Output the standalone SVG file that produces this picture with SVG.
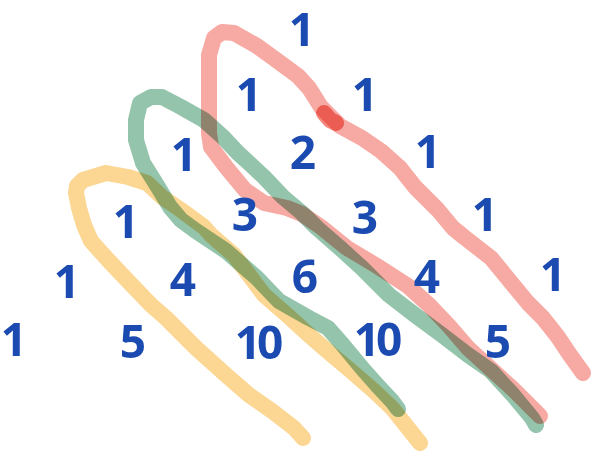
<svg xmlns="http://www.w3.org/2000/svg" width="592" height="456" viewBox="0 0 592 456">
<style>
.loop{fill:none;stroke-width:16;stroke-linecap:round;stroke-linejoin:round;mix-blend-mode:multiply}
.red{stroke:#f7aaa3}.green{stroke:#94c4ab}.yellow{stroke:#fcd693}
.n{font-family:"Noto Sans",sans-serif;font-weight:700;font-size:46px;fill:#1b4bb1;text-anchor:middle}
.t{letter-spacing:-4px}
</style>
<rect width="592" height="456" fill="#ffffff"/>
<g id="loops">
<path id="loop-yellow" class="loop yellow" d="M303,438 L294,428 L272,411 L249,395 L226,375 L196,348 L166,318 L151,305 L128,281 L109,261 L91,241 L84,225 L79,208 L76,193 L77,186 L83,180 L106,173 L128,177 L147,183 L162,197 L181,210 L204,227 L211,235 L234,255 L249,275 L264,295 L287,315 L309,335 L332,355 L351,371 L374,391 L392,408 L408,428 L420,443"/>
<path id="loop-green" class="loop green" d="M536,425 L532,418 L513,395 L491,371 L468,355 L442,335 L415,315 L389,295 L362,268 L340,248 L317,228 L302,213 L283,197 L264,177 L249,163 L238,153 L223,137 L204,120 L181,107 L162,97 L151,97 L140,103 L136,120 L136,140 L143,163 L158,187 L170,207 L181,220 L196,231 L226,251 L257,278 L279,301 L309,318 L328,328 L343,345 L362,368 L377,385 L392,401 L398,409"/>
<path id="loop-red" class="loop red" d="M583,373 L570,355 L558,337 L543,318 L528,303 L509,280 L491,258 L464,237 L453,228 L438,210 L415,187 L400,168 L381,151 L362,138 L340,126 L330,116 L321,107 L309,88 L298,76 L279,62 L257,46 L234,33 L222,32 L214,38 L209,55 L209,70 L209,133 L211,147 L226,167 L245,190 L264,203 L287,208 L302,214 L321,227 L347,248 L377,266 L408,286 L430,306 L449,326 L468,348 L491,369 L513,389 L532,408 L540,416"/>
<path class="loop" stroke="#f38a81" stroke-width="11" d="M324,113 L330,120 L336,123"/>
</g>
<g id="row0"><text id="n0-0" class="n" x="302" y="46">1</text></g>
<g id="row1"><text id="n1-0" class="n" x="249" y="111">1</text><text id="n1-1" class="n" x="365" y="111">1</text></g>
<g id="row2"><text id="n2-0" class="n" x="184" y="171">1</text><text id="n2-1" class="n" x="303" y="169">2</text><text id="n2-2" class="n" x="428" y="168">1</text></g>
<g id="row3"><text id="n3-0" class="n" x="126" y="238">1</text><text id="n3-1" class="n" x="245" y="231">3</text><text id="n3-2" class="n" x="365" y="234">3</text><text id="n3-3" class="n" x="485" y="231">1</text></g>
<g id="row4"><text id="n4-0" class="n" x="67" y="298">1</text><text id="n4-1" class="n" x="183" y="296">4</text><text id="n4-2" class="n" x="305" y="293">6</text><text id="n4-3" class="n" x="427" y="293">4</text><text id="n4-4" class="n" x="553" y="291">1</text></g>
<g id="row5"><text id="n5-0" class="n" x="14" y="356">1</text><text id="n5-1" class="n" x="133" y="358">5</text><text id="n5-2" class="n t" x="257" y="359">10</text><text id="n5-3" class="n t" x="376" y="356">10</text><text id="n5-4" class="n" x="498" y="358">5</text></g>
</svg>
